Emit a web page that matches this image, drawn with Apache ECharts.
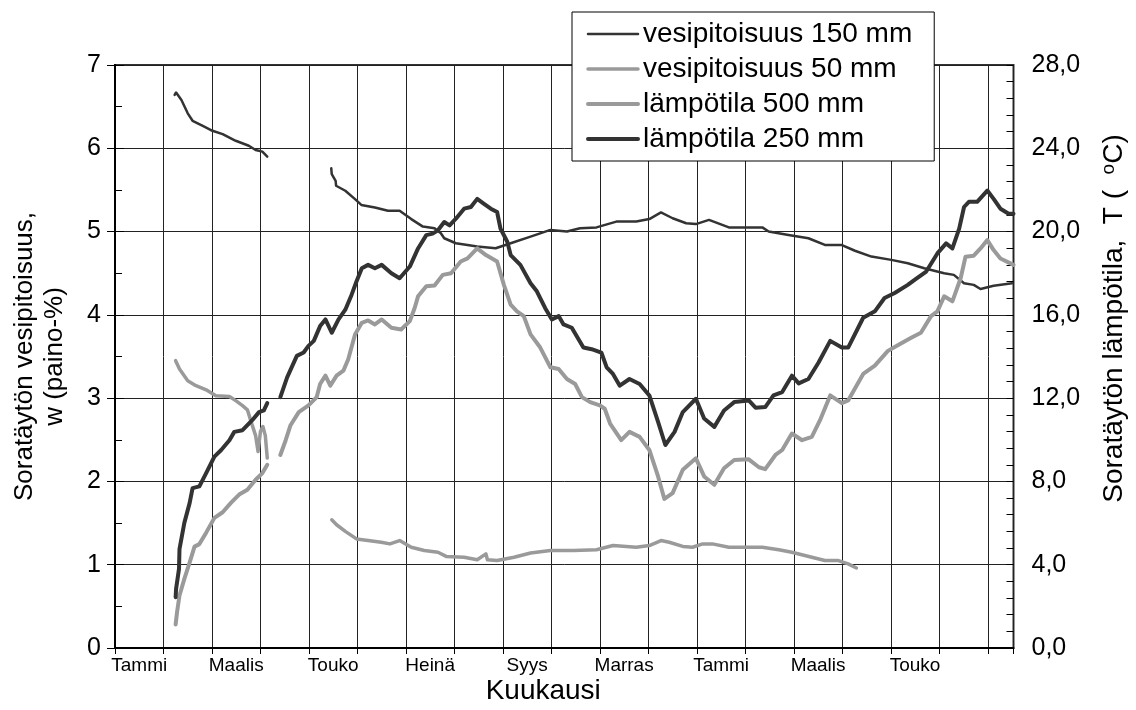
<!DOCTYPE html>
<html>
<head>
<meta charset="utf-8">
<script src="https://cdn.jsdelivr.net/npm/echarts@6/dist/echarts.min.js"></script>
<style>html,body{margin:0;padding:0;background:#fff}#c{width:1136px;height:710px}</style>
</head>
<body>
<div id="c"></div>
<script>
// x values are months from 1 January of the first year (0 = start of Tammi)
const MONTH_LABELS = ['Tammi','Maalis','Touko','Heinä','Syys','Marras','Tammi','Maalis','Touko'];
const X_MAX = 18.53;

const SERIES_NAMES = ['vesipitoisuus 150 mm','vesipitoisuus 50 mm','lämpötila 500 mm','lämpötila 250 mm'];

// vesipitoisuus 150 mm (left axis, paino-%)
const W150_A = [[1.23,6.64],[1.26,6.67],[1.37,6.58],[1.50,6.42],[1.60,6.33],[1.81,6.27],[2.01,6.21],[2.22,6.17],[2.49,6.09],[2.76,6.03],[2.90,5.98],[3.04,5.96],[3.14,5.90]];
const W150_B = [[4.46,5.76],[4.47,5.69],[4.55,5.61],[4.56,5.55],[4.75,5.49],[4.95,5.39],[5.08,5.32],[5.36,5.29],[5.63,5.25],[5.87,5.25],[6.11,5.15],[6.35,5.06],[6.59,5.04],[6.72,4.98],[6.79,4.92],[7.03,4.86],[7.27,4.84],[7.47,4.82],[7.85,4.80],[8.16,4.86],[8.57,4.94],[8.98,5.02],[9.32,5.00],[9.59,5.04],[9.93,5.05],[10.34,5.12],[10.75,5.12],[11.02,5.15],[11.26,5.23],[11.50,5.16],[11.78,5.10],[11.98,5.09],[12.25,5.14],[12.66,5.05],[13.35,5.05],[13.48,5.00],[13.89,4.96],[14.30,4.92],[14.64,4.84],[14.98,4.84],[15.26,4.77],[15.60,4.70],[16.01,4.66],[16.35,4.62],[16.69,4.56],[17.10,4.50],[17.30,4.48],[17.51,4.38],[17.71,4.36],[17.85,4.31],[18.12,4.35],[18.50,4.38]];

// vesipitoisuus 50 mm (left axis, paino-%)
const W50_A = [[1.25,3.45],[1.33,3.35],[1.50,3.21],[1.67,3.15],[1.88,3.10],[2.08,3.03],[2.36,3.02],[2.49,2.97],[2.63,2.91],[2.73,2.86],[2.80,2.73],[2.90,2.55],[2.95,2.36],[3.00,2.60],[3.05,2.66],[3.10,2.55],[3.14,2.28]];
const W50_B = [[4.47,1.54],[4.57,1.48],[4.75,1.40],[4.98,1.31],[5.22,1.29],[5.49,1.27],[5.67,1.25],[5.87,1.29],[6.11,1.21],[6.38,1.17],[6.66,1.15],[6.83,1.10],[7.20,1.09],[7.47,1.06],[7.65,1.13],[7.68,1.06],[7.88,1.05],[8.23,1.09],[8.57,1.14],[8.98,1.17],[9.46,1.17],[9.93,1.18],[10.27,1.23],[10.75,1.21],[11.02,1.23],[11.26,1.29],[11.43,1.27],[11.71,1.22],[11.91,1.21],[12.12,1.25],[12.32,1.25],[12.66,1.21],[13.35,1.21],[13.69,1.18],[13.96,1.15],[14.37,1.09],[14.64,1.05],[14.92,1.05],[15.12,1.01],[15.29,0.96]];

// lämpötila 500 mm (right axis, °C)
const T500_A = [[1.25,1.13],[1.28,1.73],[1.33,2.52],[1.43,3.32],[1.54,4.11],[1.64,4.87],[1.74,4.99],[1.88,5.54],[2.05,6.25],[2.22,6.52],[2.39,6.97],[2.56,7.37],[2.73,7.60],[2.90,8.08],[3.04,8.40],[3.14,8.80]];
const T500_B = [[3.41,9.27],[3.52,9.98],[3.62,10.70],[3.79,11.33],[3.99,11.65],[4.16,12.05],[4.23,12.68],[4.34,13.08],[4.44,12.60],[4.57,13.08],[4.71,13.32],[4.81,13.87],[4.95,15.06],[5.09,15.62],[5.22,15.73],[5.36,15.54],[5.50,15.78],[5.70,15.38],[5.90,15.30],[6.08,15.70],[6.18,16.33],[6.25,16.89],[6.42,17.37],[6.59,17.41],[6.76,17.92],[6.93,18.00],[7.13,18.56],[7.27,18.71],[7.47,19.19],[7.65,18.87],[7.88,18.56],[8.02,17.44],[8.16,16.49],[8.29,16.17],[8.43,15.94],[8.57,15.06],[8.77,14.43],[8.98,13.48],[9.15,13.40],[9.32,12.92],[9.49,12.68],[9.63,12.05],[9.80,11.81],[10.00,11.65],[10.10,11.49],[10.21,10.78],[10.44,9.98],[10.61,10.38],[10.82,10.14],[11.02,9.51],[11.20,8.24],[11.33,7.16],[11.50,7.44],[11.71,8.56],[11.98,9.11],[12.15,8.24],[12.36,7.84],[12.56,8.63],[12.77,9.03],[13.07,9.06],[13.28,8.68],[13.41,8.59],[13.62,9.27],[13.76,9.51],[13.96,10.30],[14.17,9.98],[14.37,10.14],[14.54,10.94],[14.75,12.13],[14.99,11.76],[15.12,11.89],[15.43,13.16],[15.67,13.56],[15.94,14.27],[16.18,14.59],[16.42,14.90],[16.62,15.14],[16.83,15.94],[16.96,16.17],[17.10,16.89],[17.27,16.65],[17.44,17.76],[17.54,18.79],[17.71,18.84],[17.85,19.19],[17.99,19.59],[18.12,19.11],[18.26,18.71],[18.53,18.40]];

// lämpötila 250 mm (right axis, °C)
const T250_A = [[1.25,2.44],[1.26,2.84],[1.32,3.80],[1.33,4.75],[1.43,6.01],[1.54,6.97],[1.60,7.68],[1.74,7.76],[1.88,8.40],[2.05,9.19],[2.19,9.51],[2.36,9.98],[2.46,10.38],[2.63,10.46],[2.83,10.94],[2.97,11.33],[3.07,11.41],[3.14,11.76]];
const T250_B = [[3.41,12.05],[3.55,13.00],[3.75,14.03],[3.89,14.19],[3.99,14.51],[4.10,14.75],[4.23,15.46],[4.34,15.78],[4.47,15.14],[4.61,15.78],[4.75,16.25],[4.88,16.97],[4.98,17.60],[5.09,18.24],[5.22,18.40],[5.36,18.24],[5.50,18.40],[5.70,18.00],[5.87,17.76],[6.08,18.32],[6.25,19.19],[6.42,19.83],[6.55,19.90],[6.66,20.06],[6.79,20.46],[6.90,20.30],[7.03,20.62],[7.20,21.10],[7.34,21.18],[7.47,21.57],[7.61,21.33],[7.75,21.10],[7.88,20.94],[7.95,20.14],[8.09,19.51],[8.16,18.87],[8.36,18.40],[8.57,17.52],[8.70,17.13],[8.87,16.33],[9.01,15.78],[9.15,15.94],[9.25,15.54],[9.42,15.38],[9.66,14.43],[9.83,14.35],[10.03,14.19],[10.14,13.48],[10.27,13.16],[10.41,12.60],[10.61,12.92],[10.82,12.68],[11.02,12.13],[11.20,10.86],[11.35,9.75],[11.54,10.38],[11.71,11.33],[11.98,11.97],[12.15,11.02],[12.36,10.62],[12.56,11.41],[12.77,11.81],[13.07,11.89],[13.21,11.54],[13.41,11.57],[13.58,12.13],[13.76,12.29],[13.96,13.08],[14.10,12.71],[14.30,12.92],[14.51,13.71],[14.75,14.75],[14.99,14.43],[15.12,14.43],[15.43,15.86],[15.67,16.17],[15.87,16.81],[16.08,17.05],[16.35,17.44],[16.49,17.68],[16.73,18.08],[16.96,18.95],[17.14,19.43],[17.27,19.19],[17.41,20.14],[17.51,21.18],[17.61,21.43],[17.78,21.43],[17.99,21.97],[18.12,21.57],[18.26,21.10],[18.43,20.86],[18.53,20.86]];

const FONT = "'Liberation Sans', Arial, sans-serif";
const DARK = '#333333', LIGHT = '#9a9a9a';
const WIDTHS = [2.5, 3.5, 4, 4];

function line(name, data, yIdx, color, width) {
  return { name, type: 'line', data, xAxisIndex: 0, yAxisIndex: yIdx, symbol: 'none', showSymbol: false,
    lineStyle: { color, width, join: 'round', cap: 'round' }, itemStyle: { color }, animation: false, z: 3 };
}

const chart = echarts.init(document.getElementById('c'), null, { renderer: 'canvas' });
chart.setOption({
  animation: false,
  backgroundColor: '#fff',
  textStyle: { fontFamily: FONT },
  grid: { left: 115, right: 117, top: 65, bottom: 57, show: true, borderColor: '#333', borderWidth: 2 },
  legend: {
    data: SERIES_NAMES.map((n, i) => ({ name: n, lineStyle: { width: WIDTHS[i] } })),
    orient: 'vertical', left: 572, top: 12,
    padding: [8, 22, 8, 14], itemGap: 7, itemWidth: 50, itemHeight: 14,
    backgroundColor: '#fff', borderColor: '#000', borderWidth: 1, z: 20,
    itemStyle: { opacity: 0, borderWidth: 0 },
    textStyle: { fontSize: 28, color: '#000', fontFamily: FONT }
  },
  xAxis: [
    { type: 'value', position: 'bottom', min: 0, max: X_MAX, interval: 1,
      axisLine: { show: true, lineStyle: { color: '#000', width: 2 } },
      axisTick: { show: true, length: 6, lineStyle: { color: '#000', width: 1 } },
      axisLabel: { show: false },
      splitLine: { show: true, lineStyle: { color: '#222', width: 1 } },
      name: 'Kuukausi', nameLocation: 'middle', nameGap: 29,
      nameTextStyle: { fontSize: 28, color: '#000', fontFamily: FONT, padding: [0, 42, 0, 0] } },
    { type: 'value', position: 'bottom', min: 0, max: X_MAX, interval: 0.5,
      axisLine: { show: false }, axisTick: { show: false }, splitLine: { show: false },
      axisLabel: { show: true, margin: 8, fontSize: 19, color: '#000', fontFamily: FONT,
        formatter: v => { const k = (v - 0.5) / 2; const r = Math.round(k);
          return (Math.abs(k - r) < 1e-6 && r >= 0 && r < MONTH_LABELS.length) ? MONTH_LABELS[r] : ''; } } }
  ],
  yAxis: [
    { type: 'value', position: 'left', min: 0, max: 7, interval: 1,
      axisLine: { show: true, lineStyle: { color: '#000', width: 2 } },
      axisTick: { show: true, length: 8, lineStyle: { color: '#000' } },
      axisLabel: { fontSize: 25, color: '#000', margin: 14, fontFamily: FONT },
      splitLine: { show: true, lineStyle: { color: '#222', width: 1 } },
      name: 'Soratäytön vesipitoisuus,\nw (paino-%)', nameLocation: 'middle', nameGap: 45, nameRotate: 90,
      nameTextStyle: { fontSize: 26, color: '#000', lineHeight: 30, fontFamily: FONT } },
    { type: 'value', position: 'right', min: 0, max: 28, interval: 4,
      axisLine: { show: true, lineStyle: { color: '#000', width: 2 } },
      axisTick: { show: true, length: 9, lineStyle: { color: '#000' } },
      axisLabel: { fontSize: 25, color: '#000', margin: 18, fontFamily: FONT,
        formatter: v => v.toFixed(1).replace('.', ',') },
      splitLine: { show: false },
      name: 'Soratäytön lämpötila,  T (  {sup|o}C)', nameLocation: 'middle', nameGap: 86, nameRotate: 90,
      nameTextStyle: { fontSize: 28, color: '#000', fontFamily: FONT, padding: [0, 0, 0, 76],
        rich: { sup: { fontSize: 19, color: '#000', verticalAlign: 'top', padding: [0, 0, 10, 0], fontFamily: FONT } } } },
    { type: 'value', position: 'right', min: 0, max: 28, interval: 0.8,
      axisLine: { show: false }, axisLabel: { show: false }, splitLine: { show: false },
      axisTick: { show: true, inside: true, length: 7, lineStyle: { color: '#000' } } },
    { type: 'value', position: 'left', min: 0, max: 7, interval: 0.5,
      axisLine: { show: false }, axisLabel: { show: false }, splitLine: { show: false },
      axisTick: { show: true, inside: true, length: 7, lineStyle: { color: '#000' } } }
  ],
  series: [
    line(SERIES_NAMES[0], W150_A, 0, DARK, WIDTHS[0]),
    line(SERIES_NAMES[0], W150_B, 0, DARK, WIDTHS[0]),
    line(SERIES_NAMES[1], W50_A, 0, LIGHT, WIDTHS[1]),
    line(SERIES_NAMES[1], W50_B, 0, LIGHT, WIDTHS[1]),
    line(SERIES_NAMES[2], T500_A, 1, LIGHT, WIDTHS[2]),
    line(SERIES_NAMES[2], T500_B, 1, LIGHT, WIDTHS[2]),
    line(SERIES_NAMES[3], T250_A, 1, DARK, WIDTHS[3]),
    line(SERIES_NAMES[3], T250_B, 1, DARK, WIDTHS[3])
  ]
});
</script>
</body>
</html>
